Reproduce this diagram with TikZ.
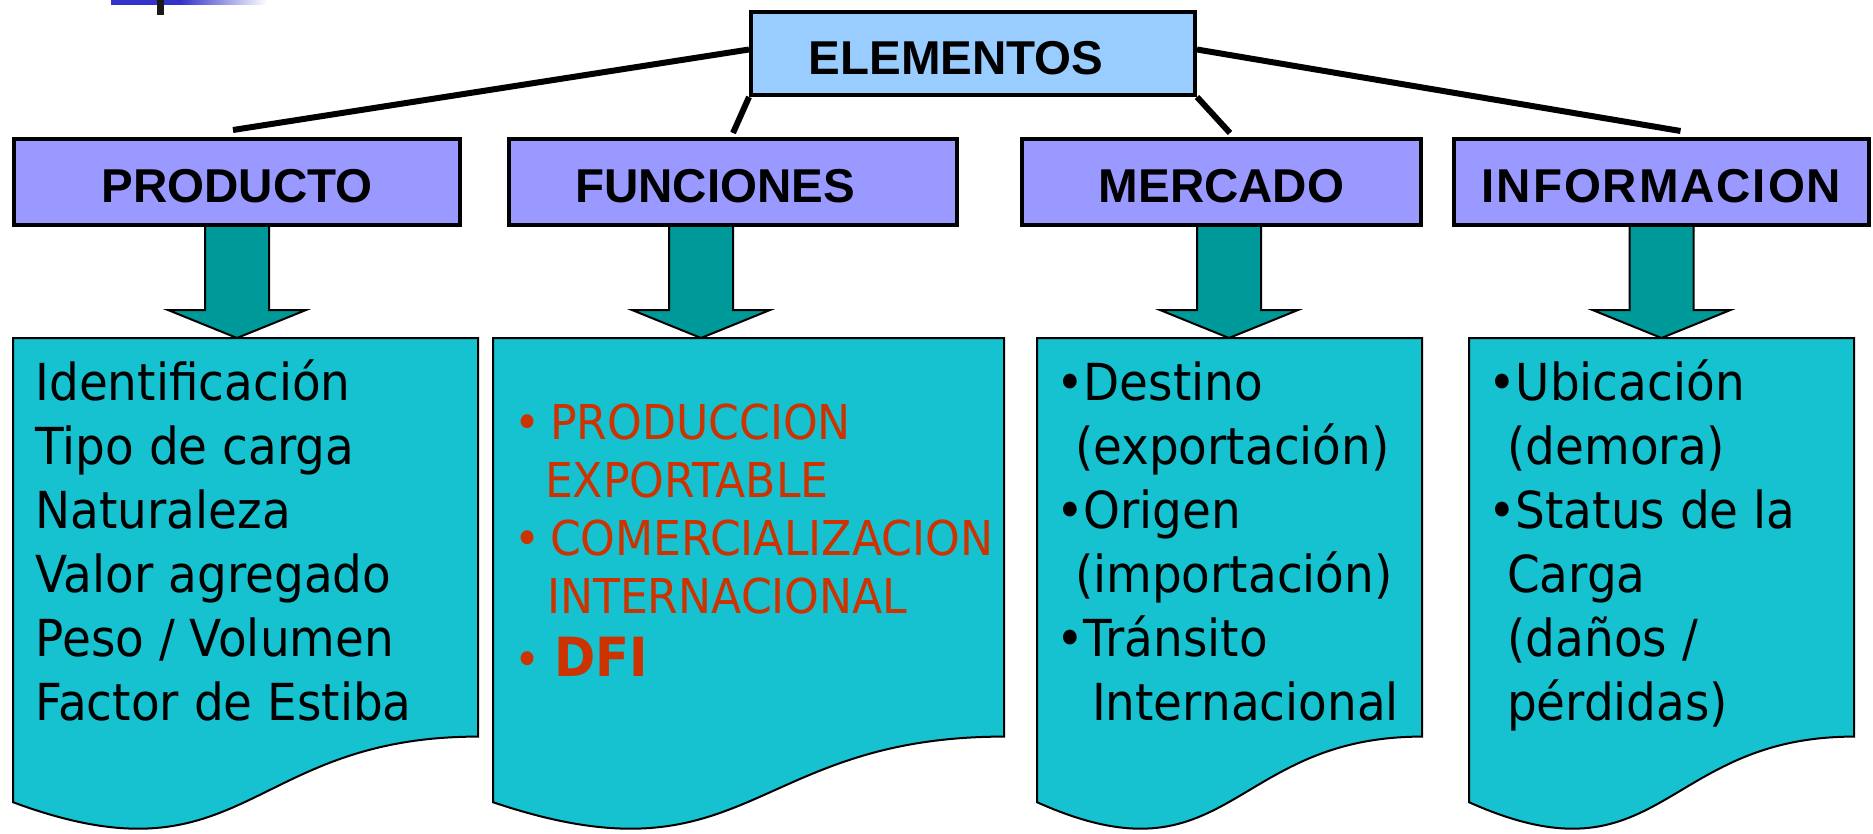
\documentclass[tikz,border=0pt]{standalone}
\usepackage{fontspec}
\usetikzlibrary{calc,backgrounds}
\newfontfamily\bodyfont[FakeStretch=0.92]{DejaVu Sans}
\newfontfamily\headfont{Liberation Sans}
\definecolor{hdrfill}{RGB}{153,153,255}
\definecolor{elemfill}{RGB}{153,204,255}
\definecolor{arrowfill}{RGB}{0,153,153}
\definecolor{docfill}{RGB}{22,193,208}
\definecolor{redtext}{RGB}{204,51,0}
\definecolor{barblue}{RGB}{51,51,204}
\tikzset{
  hdr/.style={draw=black, line width=2pt, fill=hdrfill, inner sep=0pt,
    font=\headfont\bfseries\fontsize{23.75}{28}\selectfont,
    text height=21pt, text depth=0pt, minimum height=43pt},
  elembox/.style={hdr, fill=elemfill, minimum height=41.5pt},
  docarea/.style={draw=none, inner sep=0pt, outer sep=0pt},
  docline/.style={draw=black, line width=1pt, fill=docfill},
  bigarrow/.style={draw=black, line width=1pt, fill=arrowfill, line join=miter},
  link/.style={draw=black, line width=3pt},
  bodytext/.style={inner sep=0pt, outer sep=0pt, anchor=base west,
    font=\bodyfont\fontsize{25.5}{32}\selectfont},
  redbody/.style={bodytext, text=redtext, font=\bodyfont\fontsize{24}{29}\selectfont},
}
\newcommand\DocPath[1]{%
  \path[docline] (#1.north west) -- (#1.north east)
    -- ($(#1.north east)!0.802!(#1.south east)$)
    .. controls ($(#1.north)!0.802!(#1.south)$) and ($(#1.north)!1.1075!(#1.south)$)
    .. ($(#1.north west)!0.934!(#1.south west)$) -- cycle;}
\newcommand\DownArrow[2]{%
  \path[bigarrow] ($(#1.south)+(#2-32,-2)$) -- ++(0,85) -- ++(-37,0)
    -- ++(69,28) -- ++(69,-28) -- ++(-37,0) -- ++(0,-85) -- cycle;}
\begin{document}
\begin{tikzpicture}[x=0.5pt,y=-0.5pt]
\useasboundingbox (0,0) rectangle (1873,834);
% top-left decoration
\fill[barblue] (111,0) rectangle (180,5);
\shade[left color=barblue, right color=white] (180,0) rectangle (267,5);
\fill[black!90] (157,0) rectangle (164,15);
% main boxes
\node[elembox, minimum width=222pt] (elem) at (973,53.5) {ELEMENTOS\hspace*{17pt}};
\node[hdr, minimum width=223pt] (prod) at (237,182) {PRODUCTO};
\node[hdr, minimum width=224pt] (func) at (733,182) {FUNCIONES\hspace*{18pt}};
\node[hdr, minimum width=199.5pt] (merc) at (1221.5,182) {MERCADO};
\node[hdr, minimum width=207.5pt] (info) at (1661.5,182) {\addfontfeature{LetterSpace=4}INFORMACION};
% connectors
\draw[link] ([yshift=2pt]elem.west) -- ([xshift=-2pt,yshift=3.5pt]prod.north);
\draw[link] (elem.south west) -- ([yshift=2pt]func.north);
\draw[link] (elem.south east) -- ([xshift=4.25pt,yshift=2pt]merc.north);
\draw[link] ([yshift=2pt]elem.east) -- ([xshift=9.5pt,yshift=3pt]info.north);
% document shapes
\node[docarea, minimum width=232.5pt, minimum height=248.5pt] (pdoc) at (245.5,586.5) {};
\node[docarea, minimum width=255.5pt, minimum height=248.5pt] (fdoc) at (748.5,586.5) {};
\node[docarea, minimum width=192.5pt, minimum height=248.5pt] (mdoc) at (1229.5,586.5) {};
\node[docarea, minimum width=192.5pt, minimum height=248.5pt] (idoc) at (1661.5,586.5) {};
\DocPath{pdoc}
\DocPath{fdoc}
\DocPath{mdoc}
\DocPath{idoc}
% texts
\node[bodytext] (ptext) at (35.5,400) {\vtop{\hbox{Identificación}\hbox{Tipo de carga}\hbox{Naturaleza}\hbox{Valor agregado}\hbox{Peso / Volumen}\hbox{Factor de Estiba}}};
\node[redbody] (ftext) at (514.5,439) {\vtop{%
  \hbox{\makebox[17.75pt][l]{•}PRODUCCION}%
  \hbox{\hspace*{15.25pt}EXPORTABLE}%
  \hbox{\makebox[17.75pt][l]{•}COMERCIALIZACION}%
  \hbox{\hspace*{16.25pt}INTERNACIONAL}%
  \vskip 2.5pt
  \hbox{\makebox[19.75pt][l]{•}{\bfseries\fontsize{27}{29}\selectfont DFI}}}};
\node[bodytext] (mtext) at (1056,400) {\vtop{\hbox{•Destino}\hbox{\hspace*{9.5pt}(exportación)}\hbox{•Origen}\hbox{\hspace*{9.5pt}(importación)}\hbox{•Tránsito}\hbox{\hspace*{18pt}Internacional}}};
\node[bodytext] (itext) at (1488,400) {\vtop{\hbox{•Ubicación}\hbox{\hspace*{9.75pt}(demora)}\hbox{•Status de la}\hbox{\hspace*{9.5pt}Carga}\hbox{\hspace*{9.75pt}(daños /}\hbox{\hspace*{9.5pt}pérdidas)}}};
% arrows behind boxes
\begin{scope}[on background layer]
\fill[white] (0,0) rectangle (1873,834);
\DownArrow{prod}{0}
\DownArrow{func}{-32}
\DownArrow{merc}{7.5}
\DownArrow{info}{0}
\end{scope}
\end{tikzpicture}
\end{document}
